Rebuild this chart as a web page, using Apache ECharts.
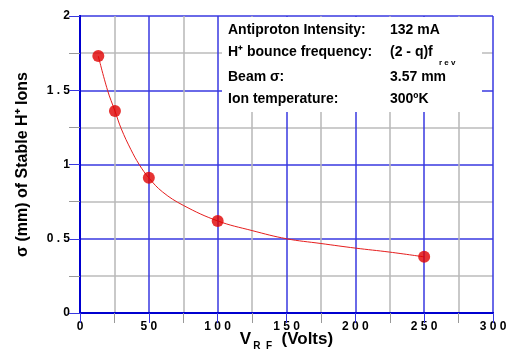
<!DOCTYPE html>
<html>
<head>
<meta charset="utf-8">
<script src="https://cdn.jsdelivr.net/npm/echarts@6/dist/echarts.min.js"></script>
<style>
  html, body { margin: 0; padding: 0; background: #fff; }
  #chart { width: 506px; height: 351px; }
</style>
</head>
<body>
<div id="chart"></div>
<script>
// measured points (V_RF in volts, sigma in mm)
const pointV = [13.3, 25.4, 50, 100, 250];
const pointSigma = [1.73, 1.36, 0.91, 0.62, 0.378];

// fitted curve
const curveV = [13.3, 20, 25.4, 30, 37, 43, 50, 60, 75, 100, 125, 150, 175, 200, 225, 250];
const curveSigma = [1.73, 1.5, 1.36, 1.24, 1.1, 1.0, 0.91, 0.815, 0.725, 0.62, 0.555, 0.50, 0.468, 0.437, 0.41, 0.378];

// annotation lines
const infoLabels = ['Antiproton Intensity:', 'H\u207A bounce frequency:', 'Beam \u03C3:', 'Ion temperature:'];
const infoValues = ['132 mA', '(2 - q)f', '3.57 mm', '300\u00BAK'];

const BLUE = '#3838e0';
const EDGE = '#0000d0';
const FONT = '"Liberation Sans", Arial, sans-serif';

function spaced(v) {
    return String(v).split('').join(' ');
}

const chart = echarts.init(document.getElementById('chart'));

const tickText = { color: '#000', fontWeight: 'bold', fontSize: 12, fontFamily: FONT };

const infoGraphics = [];
const rowY = [31, 53, 78, 100];
infoLabels.forEach(function (t, i) {
    infoGraphics.push({
        type: 'text', left: 228, top: rowY[i] - 8, z: 20,
        style: { text: t, fill: '#000', fontSize: 14, fontWeight: 'bold', fontFamily: FONT }
    });
    infoGraphics.push({
        type: 'text', left: 390, top: rowY[i] - 8, z: 20,
        style: { text: infoValues[i], fill: '#000', fontSize: 14, fontWeight: 'bold', fontFamily: FONT }
    });
});
infoGraphics.push({
    type: 'text', left: 439, top: 59, z: 20,
    style: { text: 'r e v', fill: '#000', fontSize: 8, fontWeight: 'bold', fontFamily: FONT }
});

const option = {
    backgroundColor: '#fff',
    animation: false,
    grid: { left: 80, right: 13, top: 16, bottom: 38, outerBoundsMode: 'none', containLabel: false },
    xAxis: [{
        type: 'value', min: 0, max: 300, interval: 50, z: 0,
        name: '{v|V}{sub|R  F}{v|  (Volts)}',
        nameLocation: 'middle', nameGap: 18, nameMoveOverlap: false,
        nameTextStyle: {
            rich: {
                v: { fontSize: 17, fontWeight: 'bold', fontFamily: FONT, color: '#000', lineHeight: 20, verticalAlign: 'top' },
                sub: { fontSize: 10, fontWeight: 'bold', fontFamily: FONT, color: '#000', lineHeight: 20, verticalAlign: 'bottom', padding: [8, 0, 0, 2] }
            }
        },
        axisLine: { show: true, lineStyle: { color: EDGE, width: 2 } },
        axisTick: { show: false },
        axisLabel: Object.assign({ margin: 8, formatter: spaced }, tickText),
        splitLine: { show: true, lineStyle: { color: BLUE, width: 1.5 } },
        minorTick: { show: false, splitNumber: 2 },
        minorSplitLine: { show: true, lineStyle: { color: '#b8b8b8', width: 1.5 } }
    }, {
        type: 'value', position: 'top', min: 0, max: 300, interval: 50, z: 30,
        axisLine: { show: true, lineStyle: { color: EDGE, width: 2 } },
        axisTick: { show: true, inside: true, length: 10, lineStyle: { color: BLUE } },
        minorTick: { show: true, splitNumber: 2, length: 10, lineStyle: { color: '#999' } },
        axisLabel: { show: false },
        splitLine: { show: false },
        minorSplitLine: { show: false }
    }],
    yAxis: [{
        type: 'value', min: 0, max: 2, interval: 0.5, z: 0,
        name: '\u03C3 (mm) of Stable H\u207A Ions',
        nameLocation: 'middle', nameGap: 49, nameMoveOverlap: false,
        nameTextStyle: { fontSize: 16, fontWeight: 'bold', fontFamily: FONT, color: '#000' },
        axisLine: { show: true, lineStyle: { color: EDGE, width: 2 } },
        axisTick: { show: false },
        axisLabel: Object.assign({ margin: 10, formatter: spaced }, tickText),
        splitLine: { show: true, lineStyle: { color: BLUE, width: 1.5 } },
        minorTick: { show: false, splitNumber: 2 },
        minorSplitLine: { show: true, lineStyle: { color: '#cccccc', width: 2 } }
    }, {
        type: 'value', position: 'right', min: 0, max: 2, interval: 0.5, z: 30,
        axisLine: { show: true, lineStyle: { color: EDGE, width: 2 } },
        axisTick: { show: true, inside: true, length: 11, lineStyle: { color: BLUE } },
        minorTick: { show: true, splitNumber: 2, length: 11, lineStyle: { color: '#999' } },
        axisLabel: { show: false },
        splitLine: { show: false },
        minorSplitLine: { show: false }
    }],
    graphic: [{
        type: 'rect', z: 5,
        shape: { x: 222, y: 17, width: 260, height: 95 },
        style: { fill: '#fff' }
    }].concat(infoGraphics),
    series: [{
        type: 'line', z: 10,
        data: curveV.map((v, i) => [v, curveSigma[i]]),
        smooth: 0.4, showSymbol: false,
        lineStyle: { color: '#e61e1e', width: 1 }
    }, {
        type: 'scatter', z: 11,
        data: pointV.map((v, i) => [v, pointSigma[i]]),
        symbolSize: 12,
        itemStyle: { color: '#e00000' }
    }]
};

chart.setOption(option);
</script>
</body>
</html>
